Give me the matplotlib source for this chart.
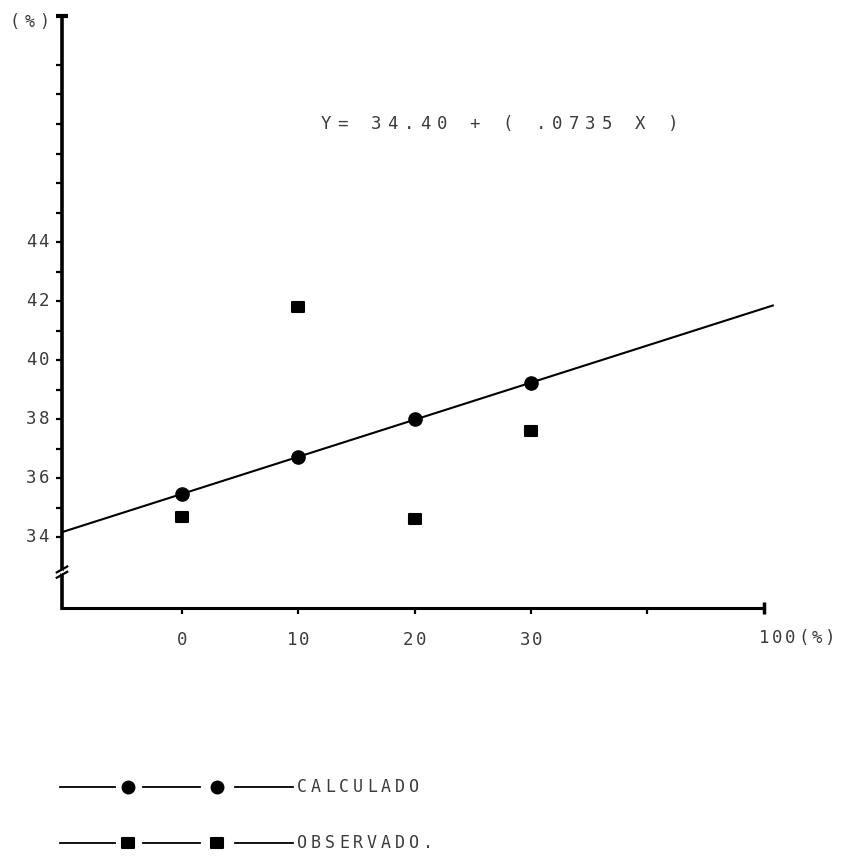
import matplotlib.pyplot as plt
import numpy as np
from matplotlib.lines import Line2D
from matplotlib.markers import MarkerStyle
from matplotlib.transforms import Affine2D

# treatment levels (%), calculated and observed response
levels = [0, 10, 20, 30]
calculado = [35.46, 36.71, 38.00, 39.22]
observado = [34.68, 41.80, 34.61, 37.59]

y_ticks = list(range(34, 51))
y_labels = ["34", "36", "38", "40", "42", "44"]
x_ticks = [0, 10, 20, 30, 40]
x_labels = ["0", "10", "20", "30"]
x_end = 50
x_end_label = "100(%)"
equation = "Y= 34.40 + ( .0735 X )"

W, H = 842, 863
INK = "black"
TYPE = "#3c3c3c"
MONO = "DejaVu Sans Mono"

XMIN, XMAX = -10.32, 52.5
YMIN, YMAX = 31.6, 52.0
YTOP = 51.65


def typed(ax, s, xy, pitch, dx=0, dy=0, ha="center", size=12.5, coords="data"):
    """Typewriter text: one glyph per fixed pitch (pixels)."""
    n = len(s)
    if ha == "center":
        start = dx - (n - 1) / 2 * pitch
    elif ha == "left":
        start = dx + pitch / 2
    else:
        start = dx - (n - 0.5) * pitch
    for i, ch in enumerate(s):
        ax.annotate(ch, xy, xycoords=coords, xytext=(start + i * pitch, dy),
                    textcoords="offset pixels", ha="center", va="center",
                    fontsize=size, family=MONO, color=TYPE, annotation_clip=False)


fig = plt.figure(figsize=(W / 100, H / 100), dpi=100)
ax = fig.add_axes([62 / W, (H - 607.8) / H, 730.6 / W, 601.8 / H])
ax.set_xlim(XMIN, XMAX)
ax.set_ylim(YMIN, YMAX)

for side in ("top", "right"):
    ax.spines[side].set_visible(False)
ax.spines["left"].set_linewidth(2.6)
ax.spines["bottom"].set_linewidth(2.2)
ax.spines["left"].set_bounds(YMIN, YTOP)
ax.spines["bottom"].set_bounds(XMIN, x_end)

ax.set_yticks(y_ticks)
ax.set_yticklabels([])
ax.set_xticks(x_ticks)
ax.set_xticklabels([])
ax.tick_params(axis="y", direction="out", length=4, width=1.6, color=INK)
ax.tick_params(axis="x", direction="out", length=4, width=1.6, color=INK)

# axis end caps
ax.plot([XMIN], [YTOP], marker="_", ms=9, mew=3, color=INK, clip_on=False)
ax.plot([x_end], [YMIN], marker="|", ms=9, mew=2.5, color=INK, clip_on=False)

# break on the y axis
yb = 32.81
ax.plot([XMIN - 0.1, XMIN + 0.1], [yb - 0.05, yb + 0.05], color="white", lw=4,
        clip_on=False, zorder=4, solid_capstyle="butt")
for off in (-0.09, 0.09):
    ax.plot([XMIN - 0.45, XMIN + 0.45], [yb + off - 0.1, yb + off + 0.1],
            color=INK, lw=1.6, clip_on=False, zorder=5)

# tick labels
for lab in y_labels:
    typed(ax, lab, (XMIN, float(lab)), pitch=12.5, dx=-12, ha="right")
for lab in x_labels:
    typed(ax, lab, (float(lab), YMIN), pitch=12.5, dy=-32)
typed(ax, x_end_label, (x_end, YMIN), pitch=13.2, dx=-6, dy=-30, ha="left")
typed(ax, "(%)", (XMIN, YTOP), pitch=15, dx=-10, dy=-6, ha="right", size=12)

# regression line through the calculated values
slope, icpt = np.polyfit(levels, calculado, 1)
xl = np.array([XMIN, x_end + 0.8])
ax.plot(xl, icpt + slope * xl, color=INK, lw=1.5, zorder=3)
ax.plot(levels, calculado, "o", ms=9.5, color=INK, zorder=4)

sq = MarkerStyle("s", joinstyle="round", transform=Affine2D().scale(1.3, 1.0))
ax.plot(levels, observado, linestyle="none", marker=sq, ms=7, mew=1.5,
        color=INK, zorder=4)

typed(ax, equation, (27.3, 48.0), pitch=16.5, size=12.5)


# legend rows drawn in figure pixels
def fx(px):
    return px / W


def fy(py):
    return 1 - py / H


rows = [(787, "o", "CALCULADO"), (843, sq, "OBSERVADO.")]
for py, mk, label in rows:
    for a, b in ((60, 115), (143, 200), (235, 293)):
        fig.add_artist(Line2D([fx(a), fx(b)], [fy(py), fy(py)], color=INK, lw=1.3))
    fig.add_artist(Line2D([fx(128), fx(217)], [fy(py), fy(py)], linestyle="none",
                          marker=mk, ms=8.5 if mk == "o" else 6.5, mew=1.5, color=INK))
    for i, ch in enumerate(label):
        fig.text(fx(302 + i * 14), fy(py), ch, ha="center", va="center",
                 fontsize=12, family=MONO, color=TYPE)

fig.savefig("out.png", dpi=100)
